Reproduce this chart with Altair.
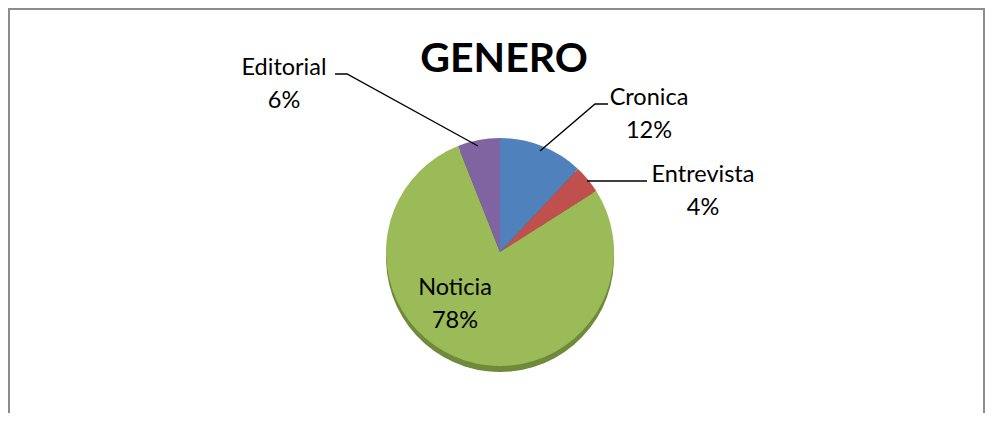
import altair as alt
import pandas as pd

# ---- data ----
categories = ["Cronica", "Entrevista", "Noticia", "Editorial"]
values = [12, 4, 78, 6]
title_text = "GENERO"

# ---- styles / layout ----
colors = ["#4F81BD", "#C0504D", "#9BBB59", "#8064A2"]
side_colors = ["#3B6592", "#943E3B", "#6F8A3A", "#5E4A7D"]
FONT = "Lato"
W, H = 977, 405
CX, CY, R = 500, 252, 114
label_pos = {"Cronica": (649, 105), "Entrevista": (703, 182),
             "Noticia": (455, 295), "Editorial": (284, 75)}
line_gap = 33
leaders = {
    "Cronica": [(540, 151), (595, 104), (608, 104)],
    "Entrevista": [(587, 181), (647, 181)],
    "Editorial": [(478, 146), (347, 74), (335, 74)],
}

pie_df = pd.DataFrame({"category": categories, "value": values,
                       "idx": list(range(len(categories)))})

lab_rows = []
for c, v in zip(categories, values):
    x, y = label_pos[c]
    lab_rows.append({"t": c, "x": x, "y": y})
    lab_rows.append({"t": f"{v}%", "x": x, "y": y + line_gap})
lab_df = pd.DataFrame(lab_rows)

lead_rows = []
for c, pts in leaders.items():
    for i, (x, y) in enumerate(pts):
        lead_rows.append({"cat": c, "o": i, "x": x, "y": y})
lead_df = pd.DataFrame(lead_rows)

title_df = pd.DataFrame({"t": [title_text], "x": [504], "y": [72]})

xs = alt.Scale(domain=[8, 8 + W])
ys = alt.Scale(domain=[8, 8 + H], reverse=True)

shadow = alt.Chart(pie_df).mark_arc(radius=R).encode(
    theta=alt.Theta("value:Q", stack=True),
    order=alt.Order("idx:Q"),
    color=alt.Color("category:N", scale=alt.Scale(domain=categories, range=side_colors), legend=None),
    x=alt.value(CX - 8), y=alt.value(CY - 8 + 6),
)

pie = alt.Chart(pie_df).mark_arc(radius=R).encode(
    theta=alt.Theta("value:Q", stack=True),
    order=alt.Order("idx:Q"),
    color=alt.Color("category:N", scale=alt.Scale(domain=categories, range=colors), legend=None),
    x=alt.value(CX - 8), y=alt.value(CY - 8),
)

lines = alt.Chart(lead_df).mark_line(color="black", strokeWidth=1.4).encode(
    x=alt.X("x:Q", scale=xs, axis=None),
    y=alt.Y("y:Q", scale=ys, axis=None),
    detail="cat:N",
    order="o:Q",
)

labels = alt.Chart(lab_df).mark_text(font=FONT, fontSize=23.5, align="center",
                                     baseline="alphabetic", color="black").encode(
    x=alt.X("x:Q", scale=xs, axis=None),
    y=alt.Y("y:Q", scale=ys, axis=None),
    text="t:N",
)

title = alt.Chart(title_df).mark_text(font=FONT, fontSize=41, fontWeight="bold",
                                      align="center", baseline="alphabetic", color="black").encode(
    x=alt.X("x:Q", scale=xs, axis=None),
    y=alt.Y("y:Q", scale=ys, axis=None),
    text="t:N",
)

bd = pd.DataFrame({"a": [0]})
border_l = alt.Chart(bd).mark_rule(color="#8c8c8c", strokeWidth=2).encode(
    x=alt.value(1), y=alt.value(0), y2=alt.value(H))
border_t = alt.Chart(bd).mark_rule(color="#8c8c8c", strokeWidth=2).encode(
    x=alt.value(0), x2=alt.value(W), y=alt.value(1))
border_r = alt.Chart(bd).mark_rule(color="#8c8c8c", strokeWidth=2).encode(
    x=alt.value(W - 1), y=alt.value(0), y2=alt.value(H))

chart = alt.layer(shadow, pie, lines, labels, title, border_l, border_t, border_r).resolve_scale(
    color="independent"
).properties(
    width=W, height=H, padding=0, autosize=alt.AutoSizeParams(type="none"),
    background="white",
).configure_view(stroke=None)

chart.save("out.html", embed_options={"renderer": "svg", "actions": False})
